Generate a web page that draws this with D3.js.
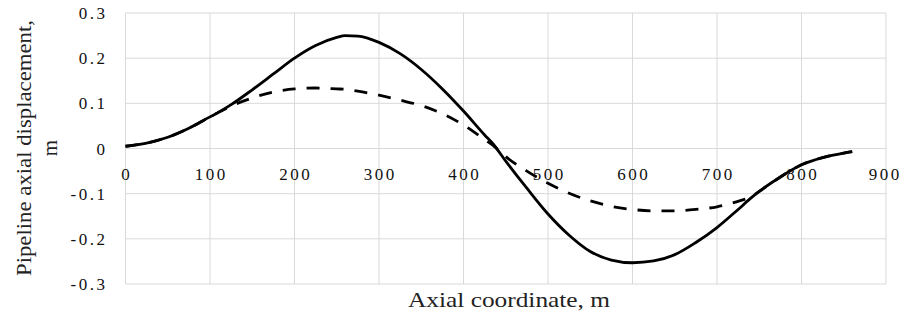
<!DOCTYPE html>
<html>
<head>
<meta charset="utf-8">
<script src="https://cdn.jsdelivr.net/npm/d3@7"></script>
<style>
  body { margin: 0; background: #fff; }
</style>
</head>
<body>
<div id="chart"></div>
<script>
let canvasWidth = 903;
let canvasHeight = 316;
let serif = "'Liberation Serif', 'DejaVu Serif', serif";

// data
let axialX = [0, 25, 50, 75, 100, 110, 125, 150, 175, 200, 225, 250, 260, 275, 300, 325, 350, 375, 400, 425, 435, 450, 475, 500, 525, 550, 575, 600, 625, 650, 675, 700, 725, 740, 750, 775, 800, 825, 850, 860];
let solidDisp = [0.005, 0.012, 0.025, 0.045, 0.07, 0.08, 0.097, 0.13, 0.165, 0.2, 0.228, 0.246, 0.25, 0.249, 0.235, 0.21, 0.175, 0.132, 0.083, 0.03, 0.01, -0.028, -0.088, -0.145, -0.192, -0.228, -0.247, -0.253, -0.249, -0.235, -0.208, -0.175, -0.135, -0.11, -0.095, -0.063, -0.036, -0.02, -0.01, -0.007];
let dashedDisp = [0.005, 0.012, 0.025, 0.045, 0.07, 0.08, 0.094, 0.112, 0.125, 0.132, 0.134, 0.132, 0.131, 0.127, 0.118, 0.107, 0.095, 0.077, 0.052, 0.02, 0.007, -0.018, -0.05, -0.077, -0.099, -0.116, -0.128, -0.135, -0.138, -0.138, -0.135, -0.129, -0.117, -0.107, -0.095, -0.063, -0.036, -0.02, -0.01, -0.007];
let xTicks = [0, 100, 200, 300, 400, 500, 600, 700, 800, 900];
let yTicks = [0.3, 0.2, 0.1, 0, -0.1, -0.2, -0.3];

let plotLeft = 125.5, plotRight = 886, plotTop = 13, plotBottom = 284;
let tickSpacing = 2.5;

let svg = d3.select("#chart")
    .append("svg")
    .attr("width", canvasWidth)
    .attr("height", canvasHeight)
    .attr("font-family", serif);

let xScale = d3.scaleLinear().domain([0, 900]).range([plotLeft, plotRight]);
let yScale = d3.scaleLinear().domain([-0.3, 0.3]).range([plotBottom, plotTop]);

// grid lines
svg.append("g")
    .selectAll("line")
    .data(xTicks)
    .join("line")
    .attr("x1", d => xScale(d)).attr("x2", d => xScale(d))
    .attr("y1", plotTop).attr("y2", plotBottom)
    .attr("stroke", "#d9d9d9").attr("stroke-width", 1);

svg.append("g")
    .selectAll("line")
    .data(yTicks)
    .join("line")
    .attr("x1", plotLeft).attr("x2", plotRight)
    .attr("y1", d => yScale(d)).attr("y2", d => yScale(d))
    .attr("stroke", "#d9d9d9").attr("stroke-width", 1);

// y tick labels (the source font is widely spaced)
svg.append("g")
    .selectAll("text")
    .data(yTicks)
    .join("text")
    .attr("x", 105 + tickSpacing)
    .attr("y", d => yScale(d) + 6)
    .attr("text-anchor", "end")
    .attr("font-size", 17)
    .attr("letter-spacing", tickSpacing)
    .attr("fill", "#111")
    .text(d => d === 0 ? "0" : d3.format(".1f")(d).replace("−", "-"));

// x tick labels, sitting under the zero line
svg.append("g")
    .selectAll("text")
    .data(xTicks)
    .join("text")
    .attr("x", d => xScale(d) + tickSpacing / 2 - (d === 900 ? 2 : 0))
    .attr("y", yScale(0) + 31.5)
    .attr("text-anchor", "middle")
    .attr("font-size", 17)
    .attr("letter-spacing", tickSpacing)
    .attr("fill", "#111")
    .text(d => d);

let line = d3.line()
    .x((d, i) => xScale(axialX[i]))
    .y(d => yScale(d))
    .curve(d3.curveMonotoneX);

svg.append("path")
    .attr("d", line(dashedDisp))
    .attr("fill", "none")
    .attr("stroke", "#000")
    .attr("stroke-width", 2.8)
    .attr("stroke-dasharray", "13,11");

svg.append("path")
    .attr("d", line(solidDisp))
    .attr("fill", "none")
    .attr("stroke", "#000")
    .attr("stroke-width", 2.8);

// axis titles
svg.append("text")
    .attr("x", 509)
    .attr("y", 306.5)
    .attr("text-anchor", "middle")
    .attr("font-size", 21)
    .attr("textLength", 202)
    .attr("lengthAdjust", "spacingAndGlyphs")
    .attr("fill", "#222")
    .text("Axial coordinate, m");

let yTitle = svg.append("text")
    .attr("text-anchor", "middle")
    .attr("font-size", 21)
    .attr("fill", "#222")
    .attr("transform", "translate(31, 148) rotate(-90)");
yTitle.append("tspan").attr("x", 0).attr("dy", 0)
    .attr("textLength", 256).attr("lengthAdjust", "spacingAndGlyphs")
    .text("Pipeline axial displacement,");
yTitle.append("tspan").attr("x", 0).attr("dy", 26).text("m");
</script>
</body>
</html>
